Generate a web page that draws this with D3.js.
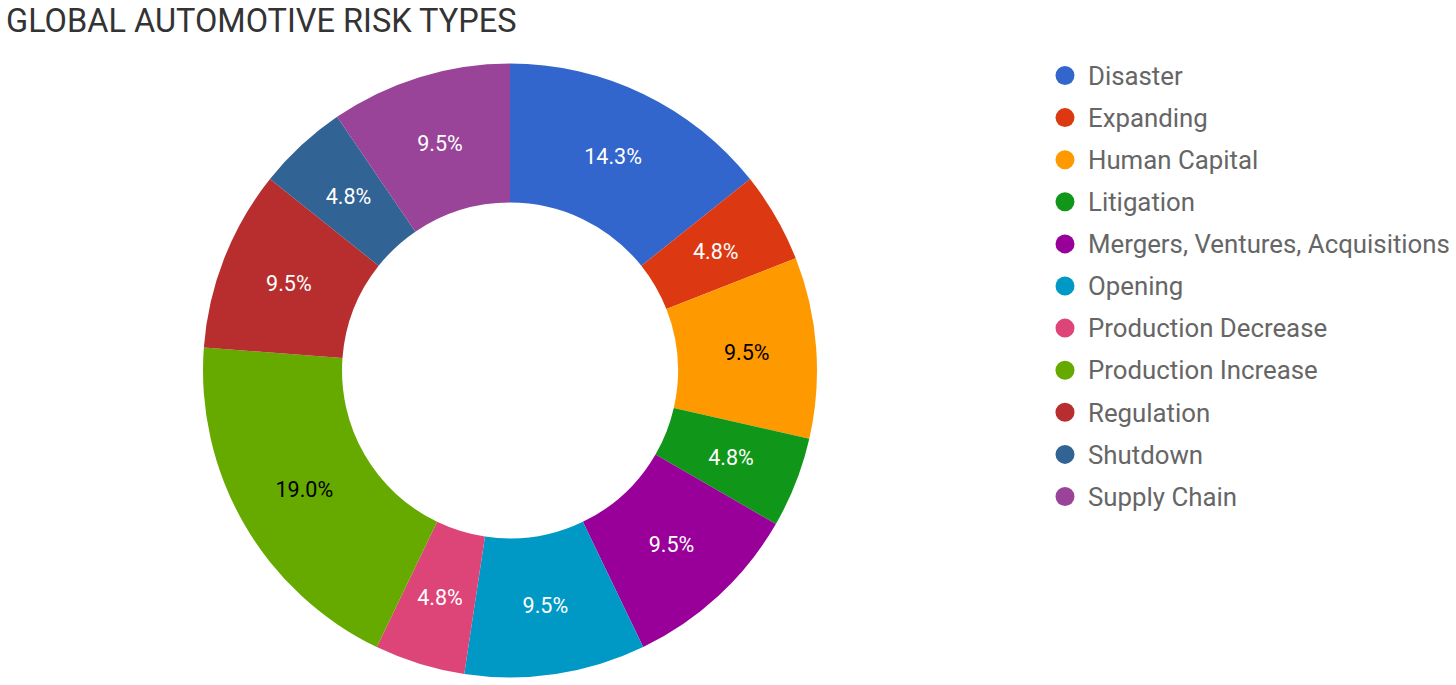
<!DOCTYPE html>
<html>
<head>
<meta charset="utf-8">
<script src="https://cdn.jsdelivr.net/npm/d3@7"></script>
<style>
    body { margin: 0; background: #fff; }
    svg { display: block; font-family: Roboto, "Noto Sans", sans-serif; }
</style>
</head>
<body>
<svg id="donut" width="1456" height="685"></svg>
<script>
// Chart data
const categories = [
    "Disaster",
    "Expanding",
    "Human Capital",
    "Litigation",
    "Mergers, Ventures, Acquisitions",
    "Opening",
    "Production Decrease",
    "Production Increase",
    "Regulation",
    "Shutdown",
    "Supply Chain"
];
const counts = [3, 1, 2, 1, 2, 2, 1, 4, 2, 1, 2];
const colors = [
    "#3366cc", "#dc3912", "#ff9900", "#109618", "#990099", "#0099c6",
    "#dd4477", "#66aa00", "#b82e2e", "#316395", "#994499"
];
// slices where the label is drawn in black
const darkLabels = ["Human Capital", "Production Increase"];

const svg = d3.select("#donut"),
    width = +svg.attr("width"),
    height = +svg.attr("height");

const cx = 510, cy = 370.5;
const outerR = 307, innerR = 168;

// Title
svg.append("text")
    .attr("x", 6)
    .attr("y", 32)
    .style("font-size", "32.5px")
    .style("fill", "#333")
    .text("GLOBAL AUTOMOTIVE RISK TYPES");

const color = d3.scaleOrdinal().domain(categories).range(colors);
const total = d3.sum(counts);

const pie = d3.pie().sort(null).value(d => d.value);
const arc = d3.arc().innerRadius(innerR).outerRadius(outerR);
const labelArc = d3.arc().innerRadius((innerR + outerR) / 2).outerRadius((innerR + outerR) / 2);

const slices = pie(categories.map((c, i) => ({ name: c, value: counts[i] })));

const g = svg.append("g").attr("transform", `translate(${cx},${cy})`);

g.selectAll("path")
    .data(slices)
    .enter()
    .append("path")
    .attr("d", arc)
    .attr("fill", d => color(d.data.name));

g.selectAll("text")
    .data(slices)
    .enter()
    .append("text")
    .attr("transform", d => `translate(${labelArc.centroid(d)})`)
    .attr("text-anchor", "middle")
    .attr("dy", "0.35em")
    .style("font-size", "21.5px")
    .style("fill", d => darkLabels.includes(d.data.name) ? "#000" : "#fff")
    .text(d => (d.data.value / total * 100).toFixed(1) + "%");

// Legend
const legend = svg.append("g")
    .selectAll("g")
    .data(categories)
    .enter()
    .append("g")
    .attr("transform", (d, i) => `translate(1065,${75.5 + i * 42.1})`);

legend.append("circle")
    .attr("r", 9.5)
    .attr("fill", d => color(d));

legend.append("text")
    .attr("x", 23)
    .attr("dy", "0.36em")
    .style("font-size", "25.8px")
    .style("fill", "#666")
    .text(d => d);
</script>
</body>
</html>
